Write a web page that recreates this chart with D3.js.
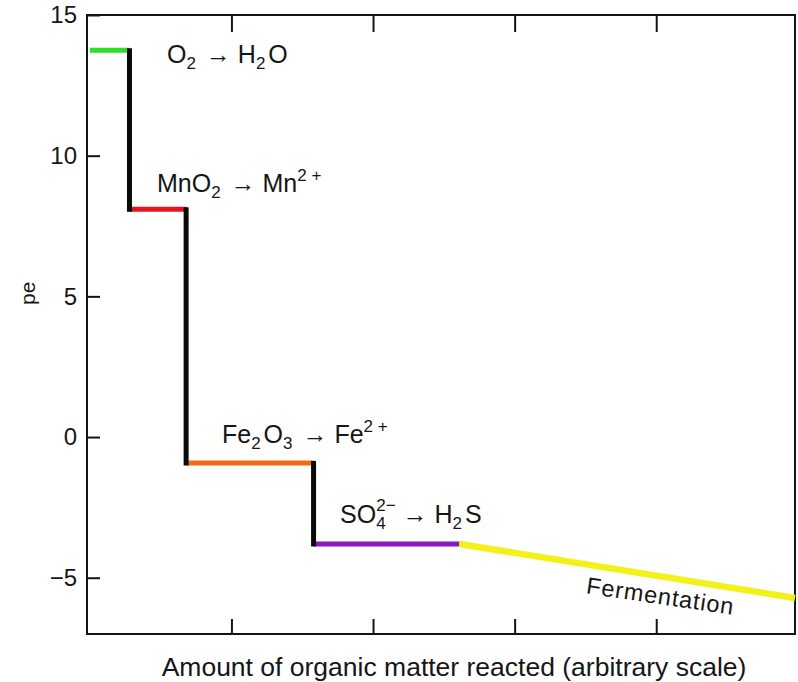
<!DOCTYPE html>
<html>
<head>
<meta charset="utf-8">
<script src="https://cdn.jsdelivr.net/npm/d3@7"></script>
<style>
  html, body { margin: 0; padding: 0; background: #fff; }
  svg { display: block; }
  text { font-family: "Liberation Sans", Arial, Helvetica, sans-serif; fill: #161616; }
</style>
</head>
<body>
<svg id="chart" width="798" height="682"></svg>
<script>
// Redox sequence: pe of the pore water as organic matter is oxidised
const stages = ["O2 → H2O", "MnO2 → Mn2+", "Fe2O3 → Fe2+", "SO42− → H2S", "Fermentation"];
const stageStart = [0, 0.28, 0.68, 1.58, 2.61];
const stageEnd   = [0.28, 0.68, 1.58, 2.61, 4.98];
const peStart    = [13.75, 8.1, -0.92, -3.8, -3.8];
const peEnd      = [13.75, 8.1, -0.92, -3.8, -5.72];
const stageColors = ["#2ee02a", "#e8141c", "#f26b12", "#8a16c6", "#f4f01a"];

// Label anchors (data units) and their chemical notation pieces
const labelX  = [0.545, 0.474, 0.933, 1.767, 3.5];
const labelPe = [13.29, 8.71, -0.21, -3.06, -5.55];
const labelParts = [
  [["O", "n"], ["2", "sub"], [" → H", "n"], ["2", "sub"], ["O", "n"]],
  [["MnO", "n"], ["2", "sub"], [" → Mn", "n"], ["2 +", "sup"]],
  [["Fe", "n"], ["2", "sub"], ["O", "n"], ["3", "sub"], [" → Fe", "n"], ["2 +", "sup"]],
  [["SO", "n"], ["4", "sub"], ["2−", "supStack"], [" → H", "n"], ["2", "sub"], ["S", "n"]],
  [["Fermentation", "n"]]
];

const yTicks = [-5, 0, 5, 10, 15];
const xTicks = [1, 2, 3, 4];
const xTitle = "Amount of organic matter reacted (arbitrary scale)";
const yTitle = "pe";

const svg = d3.select("#chart");
const plotL = 87, plotR = 795, plotT = 15, plotB = 634;

const x = d3.scaleLinear().domain([-0.02, 4.98]).range([plotL, plotR]);
const y = d3.scaleLinear().domain([-7, 15]).range([plotB, plotT]);

const ink = "#141414";

// Frame
svg.append("rect")
  .attr("x", plotL).attr("y", plotT)
  .attr("width", plotR - plotL).attr("height", plotB - plotT)
  .attr("fill", "none").attr("stroke", ink).attr("stroke-width", 2);

// Inward ticks on the left, bottom and top
const yAxis = d3.axisLeft(y).tickValues(yTicks).tickSizeInner(-13).tickSizeOuter(0)
  .tickPadding(10).tickFormat(d => d < 0 ? "\u2212" + Math.abs(d) : d);
const gy = svg.append("g").attr("transform", `translate(${plotL},0)`).call(yAxis);
gy.select(".domain").remove();
gy.selectAll("line").attr("stroke", ink).attr("stroke-width", 2);
gy.selectAll("text").attr("font-size", 24).attr("fill", ink)
  .style("font-family", '"Liberation Sans", Arial, sans-serif');

const xAxisB = d3.axisBottom(x).tickValues(xTicks).tickSizeInner(-15).tickSizeOuter(0).tickFormat("");
const gxb = svg.append("g").attr("transform", `translate(0,${plotB})`).call(xAxisB);
gxb.select(".domain").remove();
gxb.selectAll("line").attr("stroke", ink).attr("stroke-width", 2);

const xAxisT = d3.axisTop(x).tickValues(xTicks).tickSizeInner(-17).tickSizeOuter(0).tickFormat("");
const gxt = svg.append("g").attr("transform", `translate(0,${plotT})`).call(xAxisT);
gxt.select(".domain").remove();
gxt.selectAll("line").attr("stroke", ink).attr("stroke-width", 2);

// Axis titles
svg.append("text")
  .attr("x", 454).attr("y", 676)
  .attr("text-anchor", "middle").attr("font-size", 26.5)
  .text(xTitle);

svg.append("text")
  .attr("transform", `translate(35,${(y(5) - 3)}) rotate(-90)`)
  .attr("text-anchor", "middle").attr("font-size", 21)
  .text(yTitle);

// Stage segments
const idx = d3.range(stages.length);
const seg = svg.append("g");
seg.selectAll("line.stage").data(idx).join("line")
  .attr("class", "stage")
  .attr("x1", i => x(stageStart[i])).attr("x2", i => x(stageEnd[i]))
  .attr("y1", i => y(peStart[i])).attr("y2", i => y(peEnd[i]))
  .attr("stroke", i => stageColors[i])
  .attr("stroke-width", i => i === 4 ? 6.5 : 5);

// Black drops between successive electron acceptors
const drops = d3.range(1, stages.length).filter(i => peStart[i] !== peEnd[i - 1]);
seg.selectAll("line.drop").data(drops).join("line")
  .attr("class", "drop")
  .attr("x1", i => x(stageStart[i])).attr("x2", i => x(stageStart[i]))
  .attr("y1", i => y(peEnd[i - 1]) - 2).attr("y2", i => y(peStart[i]) + 2.5)
  .attr("stroke", "#0a0a0a").attr("stroke-width", 5);

// Stage labels
const base = 25, small = 17;
idx.forEach(i => {
  const isFerm = i === 4;
  let tf = `translate(${x(labelX[i])},${y(labelPe[i])})`;
  if (isFerm) {
    const ang = Math.atan2(y(peEnd[4]) - y(peStart[4]), x(stageEnd[4]) - x(stageStart[4])) * 180 / Math.PI;
    tf += ` rotate(${ang - 0.8})`;
  }
  const t = svg.append("text").attr("transform", tf)
    .attr("font-size", isFerm ? 23.5 : base)
    .attr("letter-spacing", isFerm ? 0.9 : 0);
  let shift = 0, prev = "n";
  labelParts[i].forEach(([s, kind]) => {
    const ts = t.append("tspan").text(s);
    let target = 0, dx = 0;
    if (kind === "sub") target = 6;
    else if (kind === "sup") target = -11;
    else if (kind === "supStack") { target = -12; dx = -0.556 * small; }
    // a little air after a subscript before the next symbol
    if (kind === "n" && prev === "sub") dx = 3;
    if (kind !== "n") ts.attr("font-size", small);
    ts.attr("dy", target - shift);
    if (dx) ts.attr("dx", dx);
    shift = target;
    prev = kind;
  });
});
</script>
</body>
</html>
